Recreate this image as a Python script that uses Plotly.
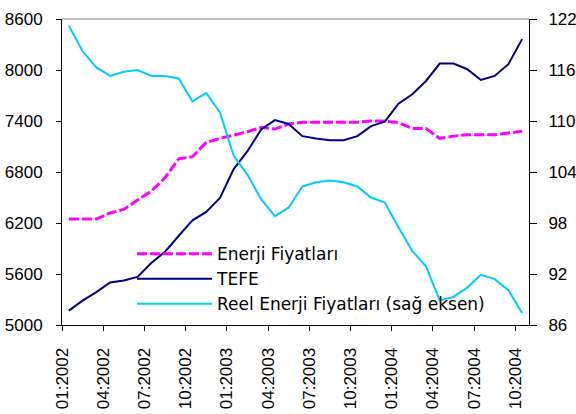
"""Enerji fiyatları, TEFE ve reel enerji fiyatları (2002-2004)."""
import plotly.graph_objects as go

# month labels, 01:2002 .. 10:2004
months = [f"{m:02d}:{y}" for y in (2002, 2003, 2004) for m in range(1, 13)][:34]

enerji = [6247, 6247, 6247, 6318, 6360, 6472, 6573, 6731, 6955, 6980,
          7148, 7195, 7234, 7273, 7325, 7305, 7365, 7385, 7385, 7385,
          7385, 7385, 7399, 7399, 7380, 7313, 7313, 7195, 7222, 7238,
          7238, 7238, 7258, 7281]

tefe = [5169, 5287, 5386, 5500, 5523, 5566, 5730, 5861, 6050, 6231,
        6330, 6495, 6835, 7045, 7301, 7410, 7365, 7222, 7195, 7175,
        7175, 7222, 7340, 7392, 7604, 7714, 7871, 8076, 8076, 8009,
        7883, 7930, 8068, 8363]

reel = [121.2, 118.2, 116.3, 115.3, 115.8, 116.0, 115.3, 115.3, 115.0, 112.3,
        113.3, 111.0, 105.9, 103.7, 100.8, 98.8, 99.8, 102.3, 102.8, 103.0,
        102.8, 102.3, 101.0, 100.4, 97.5, 94.7, 92.9, 88.9, 89.3, 90.4,
        91.9, 91.4, 90.1, 87.4]

x = list(range(len(months)))
tick_pos = [i - 0.5 for i in x[::3]]
tick_txt = months[::3]

TICK_FONT = dict(family="Liberation Sans, Arial, sans-serif", size=17, color="black")

fig = go.Figure()
fig.add_trace(go.Scatter(
    x=x, y=enerji, name="Enerji Fiyatları", mode="lines",
    line=dict(color="#FF00FF", width=3, dash="10px,3px"),
))
fig.add_trace(go.Scatter(
    x=x, y=tefe, name="TEFE", mode="lines",
    line=dict(color="#000080", width=2),
))
fig.add_trace(go.Scatter(
    x=x, y=reel, name="Reel Enerji Fiyatları (sağ eksen)", mode="lines",
    line=dict(color="#00CCFF", width=2), yaxis="y2",
))

fig.update_layout(
    width=576, height=414,
    margin=dict(l=62, r=47, t=19, b=89),
    paper_bgcolor="white", plot_bgcolor="white",
    xaxis=dict(
        range=[-0.5, len(months) - 0.5],
        tickmode="array", tickvals=tick_pos, ticktext=tick_txt,
        tickangle=-90, ticks="outside", ticklen=5, tickcolor="black",
        showline=True, linecolor="black", linewidth=1,
        showgrid=False, zeroline=False, tickfont=TICK_FONT,
        ticklabelstandoff=10, automargin=False,
    ),
    yaxis=dict(
        range=[5000, 8600], dtick=600, tick0=5000,
        ticks="outside", ticklen=5, tickcolor="black",
        showline=True, linecolor="black", linewidth=1,
        showgrid=False, zeroline=False, tickfont=TICK_FONT,
        ticklabelstandoff=10, automargin=False,
    ),
    yaxis2=dict(
        range=[86, 122], dtick=6, tick0=86, overlaying="y", side="right",
        ticks="outside", ticklen=7, tickcolor="black",
        showline=True, linecolor="black", linewidth=1,
        showgrid=False, zeroline=False, tickfont=TICK_FONT,
        ticklabelstandoff=8, automargin=False,
    ),
    legend=dict(
        x=0.15, y=0.15, xanchor="left", yanchor="middle",
        bgcolor="rgba(0,0,0,0)", itemwidth=75,
        font=dict(family="DejaVu Sans, Verdana, sans-serif", size=17, color="black"),
    ),
    shapes=[dict(type="line", xref="paper", yref="paper", x0=0, x1=1, y0=1, y1=1,
                 line=dict(color="#808080", width=1))],
)

# drop the default 8px body margin so the figure sits at the window corner
fig.write_html("out.html", config={"displayModeBar": False},
               post_script="document.body.style.margin='0';")
